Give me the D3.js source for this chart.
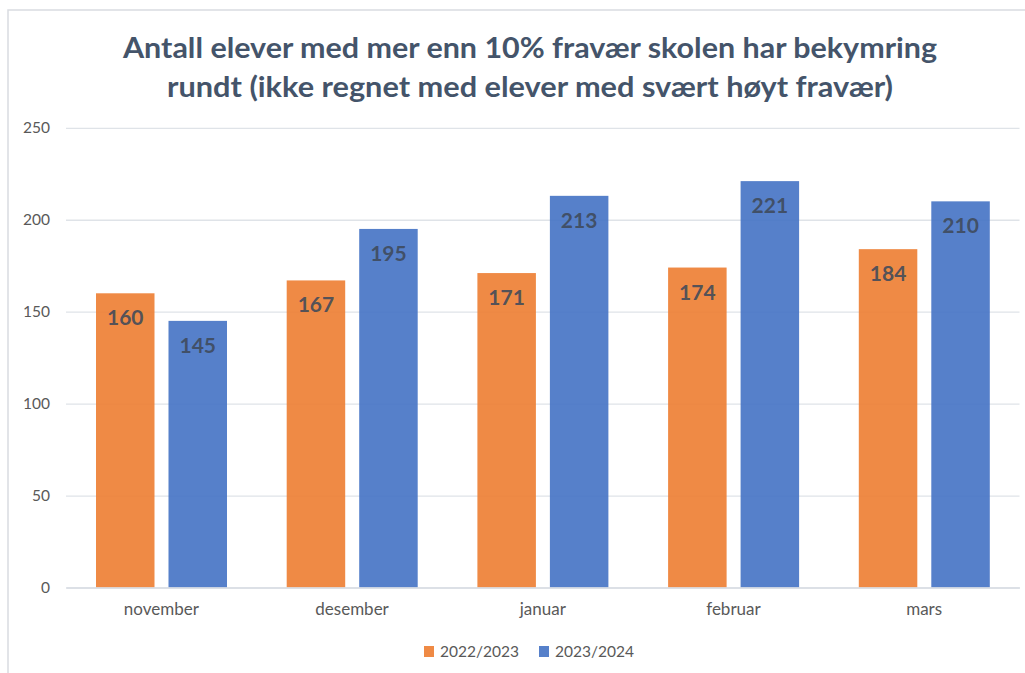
<!DOCTYPE html>
<html>
<head>
<meta charset="utf-8">
<script src="https://cdn.jsdelivr.net/npm/d3@7"></script>
<style>
  body { margin: 0; background: #fff; }
  svg { display: block; }
</style>
</head>
<body>
<div class="chart"></div>
<script>
// data
const months = ["november", "desember", "januar", "februar", "mars"];
const seriesNames = ["2022/2023", "2023/2024"];
const values2223 = [160, 167, 171, 174, 184];
const values2324 = [145, 195, 213, 221, 210];
const yTicks = [0, 50, 100, 150, 200, 250];
const titleLines = [
    "Antall elever med mer enn 10% fravær skolen har bekymring",
    "rundt (ikke regnet med elever med svært høyt fravær)"
];

const colors = ["#ED7D31", "#4472C4"];
const font = "Lato, 'Open Sans', sans-serif";

const rows = months.map((m, i) => ({ month: m, vals: [values2223[i], values2324[i]] }));

const W = 1025, H = 673;
const plotLeft = 66, plotRight = 1019.5, plotTop = 127.8, plotBottom = 587.5;

const svg = d3.select(".chart").append("svg")
    .attr("width", W)
    .attr("height", H);

// chart frame
svg.append("rect")
    .attr("x", 8).attr("y", 10)
    .attr("width", W + 20).attr("height", H + 20)
    .attr("fill", "#fff")
    .attr("stroke", "#d9dce1")
    .attr("stroke-width", 1.5);

// title
svg.append("g")
    .selectAll("text")
    .data(titleLines)
    .join("text")
    .attr("x", 530)
    .attr("y", (d, i) => 58 + i * 39)
    .attr("text-anchor", "middle")
    .attr("font-family", font)
    .attr("font-weight", "bold")
    .attr("font-size", 28)
    .attr("fill", "#44546A")
    .attr("textLength", (d, i) => i === 0 ? 814 : 726)
    .attr("lengthAdjust", "spacingAndGlyphs")
    .text(d => d);

const y = d3.scaleLinear().domain([0, 250]).range([plotBottom, plotTop]);

const x0 = d3.scaleBand().domain(months).range([plotLeft, plotRight]);
const x1 = d3.scaleBand().domain(seriesNames)
    .range([30, 30 + 131])
    .paddingInner(0.193);

// gridlines + y labels
const yAxis = svg.append("g")
    .attr("transform", `translate(${plotLeft},0)`)
    .call(d3.axisLeft(y).tickValues(yTicks).tickSize(-(plotRight - plotLeft)).tickPadding(16));
yAxis.select(".domain").remove();
yAxis.selectAll(".tick line").attr("stroke", "#dfe3e8").attr("stroke-width", 1.3);
yAxis.selectAll(".tick text")
    .attr("font-family", font)
    .attr("font-size", 15.5)
    .attr("fill", "#595959");

// bars
const groups = svg.append("g")
    .selectAll("g")
    .data(rows)
    .join("g")
    .attr("transform", d => `translate(${x0(d.month)},0)`);

groups.selectAll("rect")
    .data(d => d.vals.map((v, i) => ({ key: seriesNames[i], v: v, i: i })))
    .join("rect")
    .attr("x", d => x1(d.key))
    .attr("y", d => y(d.v))
    .attr("width", x1.bandwidth())
    .attr("height", d => y(0) - y(d.v))
    .attr("fill", d => colors[d.i])
    .attr("fill-opacity", 0.9);

groups.selectAll("text")
    .data(d => d.vals.map((v, i) => ({ key: seriesNames[i], v: v, i: i })))
    .join("text")
    .attr("x", d => x1(d.key) + x1.bandwidth() / 2)
    .attr("y", d => y(d.v) + 32)
    .attr("text-anchor", "middle")
    .attr("font-family", font)
    .attr("font-weight", "bold")
    .attr("font-size", 21)
    .attr("fill", "#3f4a5a")
    .attr("fill-opacity", 0.9)
    .text(d => d.v);

// x axis
const xAxis = svg.append("g")
    .attr("transform", `translate(0,${plotBottom})`)
    .call(d3.axisBottom(x0).tickSize(0).tickPadding(15));
xAxis.select(".domain").attr("stroke", "#d9dde3").attr("stroke-width", 1.5);
xAxis.selectAll(".tick text")
    .attr("font-family", font)
    .attr("font-size", 17)
    .attr("fill", "#595959");

// legend
const legend = svg.append("g")
    .selectAll("g")
    .data(seriesNames)
    .join("g")
    .attr("transform", (d, i) => `translate(${424 + i * 115},646)`);
legend.append("rect")
    .attr("width", 10).attr("height", 11)
    .attr("fill", (d, i) => colors[i])
    .attr("fill-opacity", 0.9);
legend.append("text")
    .attr("x", 16).attr("y", 11)
    .attr("font-family", font)
    .attr("font-size", 15.5)
    .attr("fill", "#595959")
    .text(d => d);
</script>
</body>
</html>
